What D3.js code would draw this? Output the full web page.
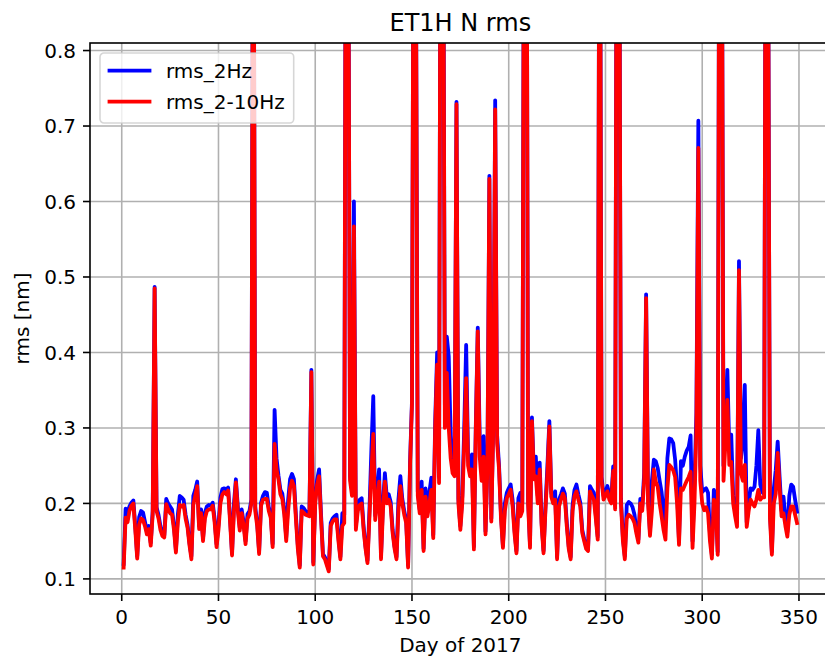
<!DOCTYPE html>
<html>
<head>
<meta charset="utf-8">
<script src="https://cdn.jsdelivr.net/npm/d3@7"></script>
<style>
  body { margin: 0; background: #fff; }
  svg { display: block; }
  text { font-family: "DejaVu Sans", sans-serif; fill: #000; }
</style>
</head>
<body>
<svg id="chart" width="825" height="662"></svg>
<script>
// daily rms, day 1 .. 349 of 2017 (values above 0.81 run off the top of the plot)
const rms2Hz = [
  0.120, 0.193, 0.188, 0.196, 0.201, 0.204, 0.170, 0.130, 0.182, 0.190,
  0.188, 0.176, 0.163, 0.170, 0.148, 0.190, 0.487, 0.195, 0.185, 0.170,
  0.160, 0.158, 0.206, 0.200, 0.196, 0.192, 0.170, 0.138, 0.185, 0.210,
  0.208, 0.205, 0.185, 0.172, 0.148, 0.130, 0.210, 0.218, 0.229, 0.170,
  0.192, 0.153, 0.188, 0.196, 0.198, 0.197, 0.201, 0.180, 0.146, 0.172,
  0.208, 0.219, 0.220, 0.218, 0.221, 0.180, 0.134, 0.200, 0.232, 0.196,
  0.168, 0.192, 0.175, 0.150, 0.186, 0.190, 0.205, 1.270, 0.195, 0.175,
  0.136, 0.201, 0.210, 0.215, 0.214, 0.195, 0.186, 0.146, 0.324, 0.260,
  0.237, 0.218, 0.213, 0.192, 0.155, 0.205, 0.232, 0.239, 0.232, 0.185,
  0.145, 0.118, 0.196, 0.194, 0.190, 0.188, 0.188, 0.377, 0.122, 0.205,
  0.232, 0.245, 0.186, 0.133, 0.129, 0.121, 0.113, 0.174, 0.180, 0.183,
  0.185, 0.155, 0.129, 0.187, 0.185, 1.320, 1.120, 0.236, 0.218, 0.600,
  0.170, 0.196, 0.205, 0.207, 0.170, 0.143, 0.124, 0.190, 0.270, 0.342,
  0.184, 0.215, 0.245, 0.130, 0.200, 0.240, 0.208, 0.212, 0.202, 0.165,
  0.143, 0.129, 0.205, 0.236, 0.206, 0.190, 0.178, 0.118, 0.255, 0.336,
  1.220, 0.970, 0.216, 0.192, 0.229, 0.140, 0.220, 0.188, 0.215, 0.234,
  0.158, 0.310, 0.400, 0.235, 1.370, 1.170, 0.330, 0.421, 0.395, 0.290,
  0.247, 0.242, 0.732, 0.206, 0.170, 0.210, 0.300, 0.410, 0.262, 0.242,
  0.265, 0.143, 0.305, 0.433, 0.289, 0.260, 0.289, 0.163, 0.255, 0.634,
  0.180, 0.305, 0.734, 0.290, 0.250, 0.185, 0.144, 0.200, 0.214, 0.220,
  0.225, 0.205, 0.165, 0.137, 0.207, 0.214, 0.200, 1.170, 1.420, 0.206,
  0.145, 0.314, 0.240, 0.262, 0.210, 0.254, 0.175, 0.137, 0.197, 0.250,
  0.309, 0.214, 0.206, 0.216, 0.129, 0.205, 0.212, 0.220, 0.213, 0.175,
  0.143, 0.129, 0.198, 0.218, 0.225, 0.212, 0.201, 0.165, 0.153, 0.143,
  0.140, 0.223, 0.218, 0.214, 0.185, 0.156, 1.270, 0.235, 0.210, 0.216,
  0.223, 0.212, 0.206, 0.249, 0.198, 1.320, 1.220, 0.206, 0.155, 0.130,
  0.198, 0.202, 0.200, 0.195, 0.185, 0.165, 0.152, 0.206, 0.196, 0.240,
  0.477, 0.210, 0.162, 0.230, 0.258, 0.256, 0.247, 0.230, 0.215, 0.190,
  0.175, 0.260, 0.286, 0.285, 0.280, 0.258, 0.220, 0.150, 0.256, 0.250,
  0.262, 0.270, 0.275, 0.290, 0.150, 0.230, 0.320, 0.707, 0.250, 0.215,
  0.218, 0.220, 0.214, 0.160, 0.132, 0.218, 0.210, 0.136, 1.320, 1.170,
  0.250, 0.300, 0.377, 0.270, 0.291, 0.210, 0.190, 0.175, 0.521, 0.260,
  0.280, 0.357, 0.175, 0.200, 0.220, 0.218, 0.222, 0.250, 0.297, 0.225,
  0.215, 0.212, 1.320, 1.020, 0.190, 0.136, 0.220, 0.244, 0.282, 0.235,
  0.190, 0.209, 0.180, 0.162, 0.210, 0.225, 0.222, 0.205, 0.189
];

const rms2to10Hz = [
  0.115, 0.181, 0.175, 0.190, 0.197, 0.200, 0.165, 0.127, 0.172, 0.180,
  0.178, 0.170, 0.159, 0.166, 0.144, 0.186, 0.485, 0.190, 0.180, 0.165,
  0.157, 0.155, 0.199, 0.192, 0.187, 0.185, 0.165, 0.135, 0.175, 0.198,
  0.196, 0.198, 0.180, 0.168, 0.145, 0.126, 0.198, 0.210, 0.223, 0.166,
  0.187, 0.150, 0.180, 0.190, 0.192, 0.192, 0.197, 0.175, 0.142, 0.165,
  0.200, 0.212, 0.215, 0.212, 0.217, 0.175, 0.131, 0.190, 0.228, 0.190,
  0.164, 0.187, 0.170, 0.146, 0.180, 0.185, 0.200, 1.250, 0.190, 0.170,
  0.133, 0.197, 0.205, 0.206, 0.206, 0.190, 0.181, 0.142, 0.279, 0.245,
  0.232, 0.212, 0.206, 0.185, 0.150, 0.190, 0.220, 0.230, 0.223, 0.180,
  0.140, 0.115, 0.190, 0.188, 0.185, 0.184, 0.183, 0.374, 0.119, 0.200,
  0.225, 0.236, 0.180, 0.130, 0.126, 0.118, 0.110, 0.170, 0.176, 0.179,
  0.179, 0.150, 0.126, 0.170, 0.174, 1.300, 1.100, 0.230, 0.210, 0.567,
  0.165, 0.190, 0.198, 0.200, 0.165, 0.140, 0.121, 0.180, 0.240, 0.292,
  0.178, 0.200, 0.229, 0.126, 0.190, 0.229, 0.200, 0.205, 0.196, 0.161,
  0.140, 0.126, 0.190, 0.223, 0.200, 0.185, 0.174, 0.115, 0.250, 0.331,
  1.200, 0.950, 0.210, 0.187, 0.218, 0.137, 0.209, 0.183, 0.200, 0.218,
  0.154, 0.300, 0.384, 0.227, 1.350, 1.150, 0.300, 0.373, 0.300, 0.260,
  0.240, 0.236, 0.729, 0.200, 0.165, 0.200, 0.280, 0.366, 0.250, 0.236,
  0.245, 0.139, 0.300, 0.428, 0.262, 0.230, 0.262, 0.159, 0.250, 0.630,
  0.176, 0.300, 0.722, 0.280, 0.245, 0.180, 0.141, 0.190, 0.207, 0.212,
  0.218, 0.196, 0.160, 0.134, 0.200, 0.183, 0.190, 1.150, 1.400, 0.200,
  0.141, 0.309, 0.232, 0.236, 0.200, 0.245, 0.170, 0.134, 0.192, 0.240,
  0.302, 0.209, 0.200, 0.205, 0.126, 0.196, 0.205, 0.213, 0.207, 0.170,
  0.140, 0.126, 0.190, 0.210, 0.216, 0.205, 0.196, 0.161, 0.150, 0.140,
  0.137, 0.216, 0.210, 0.205, 0.180, 0.152, 1.250, 0.230, 0.205, 0.210,
  0.216, 0.205, 0.200, 0.243, 0.192, 1.300, 1.200, 0.200, 0.150, 0.126,
  0.180, 0.185, 0.183, 0.180, 0.174, 0.160, 0.148, 0.200, 0.190, 0.230,
  0.472, 0.200, 0.157, 0.190, 0.245, 0.229, 0.222, 0.200, 0.183, 0.165,
  0.152, 0.220, 0.251, 0.248, 0.244, 0.235, 0.200, 0.145, 0.220, 0.218,
  0.224, 0.230, 0.235, 0.242, 0.141, 0.200, 0.300, 0.671, 0.230, 0.200,
  0.191, 0.195, 0.187, 0.150, 0.127, 0.205, 0.200, 0.132, 1.300, 1.150,
  0.230, 0.280, 0.337, 0.251, 0.255, 0.200, 0.183, 0.169, 0.509, 0.240,
  0.230, 0.251, 0.169, 0.190, 0.205, 0.200, 0.196, 0.205, 0.218, 0.205,
  0.208, 0.208, 1.300, 1.000, 0.180, 0.132, 0.200, 0.213, 0.267, 0.220,
  0.183, 0.187, 0.170, 0.156, 0.185, 0.196, 0.196, 0.185, 0.174
];

const firstDay = 1;
const days = rms2Hz.map((v, i) => firstDay + i);

const seriesNames = ['rms_2Hz', 'rms_2-10Hz'];
const seriesColors = ['#0000ff', '#ff0000'];

const xTicks = [0, 50, 100, 150, 200, 250, 300, 350];
const yTicks = [0.1, 0.2, 0.3, 0.4, 0.5, 0.6, 0.7, 0.8];

const titleText = 'ET1H N rms';
const xLabel = 'Day of 2017';
const yLabel = 'rms [nm]';

/*
  layout (matplotlib-like, figure cropped on the right)
*/
const plot = { left: 90, right: 830.7, top: 43, bottom: 594 };
const FS = 20;      // tick / legend / label font
const TITLE_FS = 24;
const SPINE_W = 1.6;
const LINE_W = 3.8;

const svg = d3.select('#chart');

const x = d3.scaleLinear().domain([-16.4, 366.4]).range([plot.left, plot.right]);
const y = d3.scaleLinear().domain([0.08, 0.81]).range([plot.bottom, plot.top]);

//clip for the lines
svg.append('defs').append('clipPath').attr('id', 'plot-clip')
  .append('rect')
  .attr('x', plot.left).attr('y', plot.top)
  .attr('width', plot.right - plot.left).attr('height', plot.bottom - plot.top);

//grid
const grid = svg.append('g').attr('stroke', '#b0b0b0').attr('stroke-width', 1.6);
grid.selectAll('line.vx').data(xTicks).join('line')
  .attr('x1', d => x(d)).attr('x2', d => x(d))
  .attr('y1', plot.top).attr('y2', plot.bottom);
grid.selectAll('line.hy').data(yTicks).join('line')
  .attr('x1', plot.left).attr('x2', plot.right)
  .attr('y1', d => y(d)).attr('y2', d => y(d));

//series lines, blue first then red on top
const line = d3.line().x((d, i) => x(days[i])).y(d => y(d));
const gLines = svg.append('g').attr('clip-path', 'url(#plot-clip)');
[rms2Hz, rms2to10Hz].forEach((s, k) => {
  gLines.append('path')
    .attr('d', line(s))
    .attr('fill', 'none')
    .attr('stroke', seriesColors[k])
    .attr('stroke-width', LINE_W)
    .attr('stroke-linejoin', 'round')
    .attr('stroke-linecap', 'square');
});

//spines
svg.append('rect')
  .attr('x', plot.left).attr('y', plot.top)
  .attr('width', plot.right - plot.left).attr('height', plot.bottom - plot.top)
  .attr('fill', 'none').attr('stroke', '#000').attr('stroke-width', SPINE_W);

//x axis ticks + labels
const gx = svg.append('g');
gx.selectAll('line').data(xTicks).join('line')
  .attr('x1', d => x(d)).attr('x2', d => x(d))
  .attr('y1', plot.bottom).attr('y2', plot.bottom + 7)
  .attr('stroke', '#000').attr('stroke-width', SPINE_W);
gx.selectAll('text').data(xTicks).join('text')
  .attr('x', d => x(d)).attr('y', plot.bottom + 30)
  .attr('text-anchor', 'middle').attr('font-size', FS)
  .text(d => d);

//y axis ticks + labels
const gy = svg.append('g');
gy.selectAll('line').data(yTicks).join('line')
  .attr('x1', plot.left - 7).attr('x2', plot.left)
  .attr('y1', d => y(d)).attr('y2', d => y(d))
  .attr('stroke', '#000').attr('stroke-width', SPINE_W);
gy.selectAll('text').data(yTicks).join('text')
  .attr('x', plot.left - 14).attr('y', d => y(d) + 7.3)
  .attr('text-anchor', 'end').attr('font-size', FS)
  .text(d => d.toFixed(1));

//labels and title
const midX = (plot.left + plot.right) / 2;
svg.append('text').attr('x', midX).attr('y', 652)
  .attr('text-anchor', 'middle').attr('font-size', FS).text(xLabel);
svg.append('text')
  .attr('transform', `translate(29,${(plot.top + plot.bottom) / 2}) rotate(-90)`)
  .attr('text-anchor', 'middle').attr('font-size', FS).text(yLabel);
svg.append('text').attr('x', midX).attr('y', 31)
  .attr('text-anchor', 'middle').attr('font-size', TITLE_FS).text(titleText);

//legend
const lg = svg.append('g').attr('transform', `translate(${plot.left + 10},${plot.top + 10})`);
const frame = lg.append('rect')
  .attr('rx', 4).attr('ry', 4)
  .attr('fill', '#fff').attr('fill-opacity', 0.8)
  .attr('stroke', '#cccccc').attr('stroke-opacity', 0.8).attr('stroke-width', 1.6);
let maxW = 0;
seriesNames.forEach((name, k) => {
  const cy = 17.7 + k * 31;
  lg.append('line')
    .attr('x1', 9.5).attr('x2', 49.5).attr('y1', cy).attr('y2', cy)
    .attr('stroke', seriesColors[k]).attr('stroke-width', LINE_W).attr('stroke-linecap', 'square');
  const t = lg.append('text').attr('x', 66).attr('y', cy + 7.3)
    .attr('font-size', FS).text(name);
  maxW = Math.max(maxW, t.node().getComputedTextLength());
});
frame.attr('x', 0).attr('y', 0).attr('width', 66 + maxW + 9).attr('height', 70);
</script>
</body>
</html>
